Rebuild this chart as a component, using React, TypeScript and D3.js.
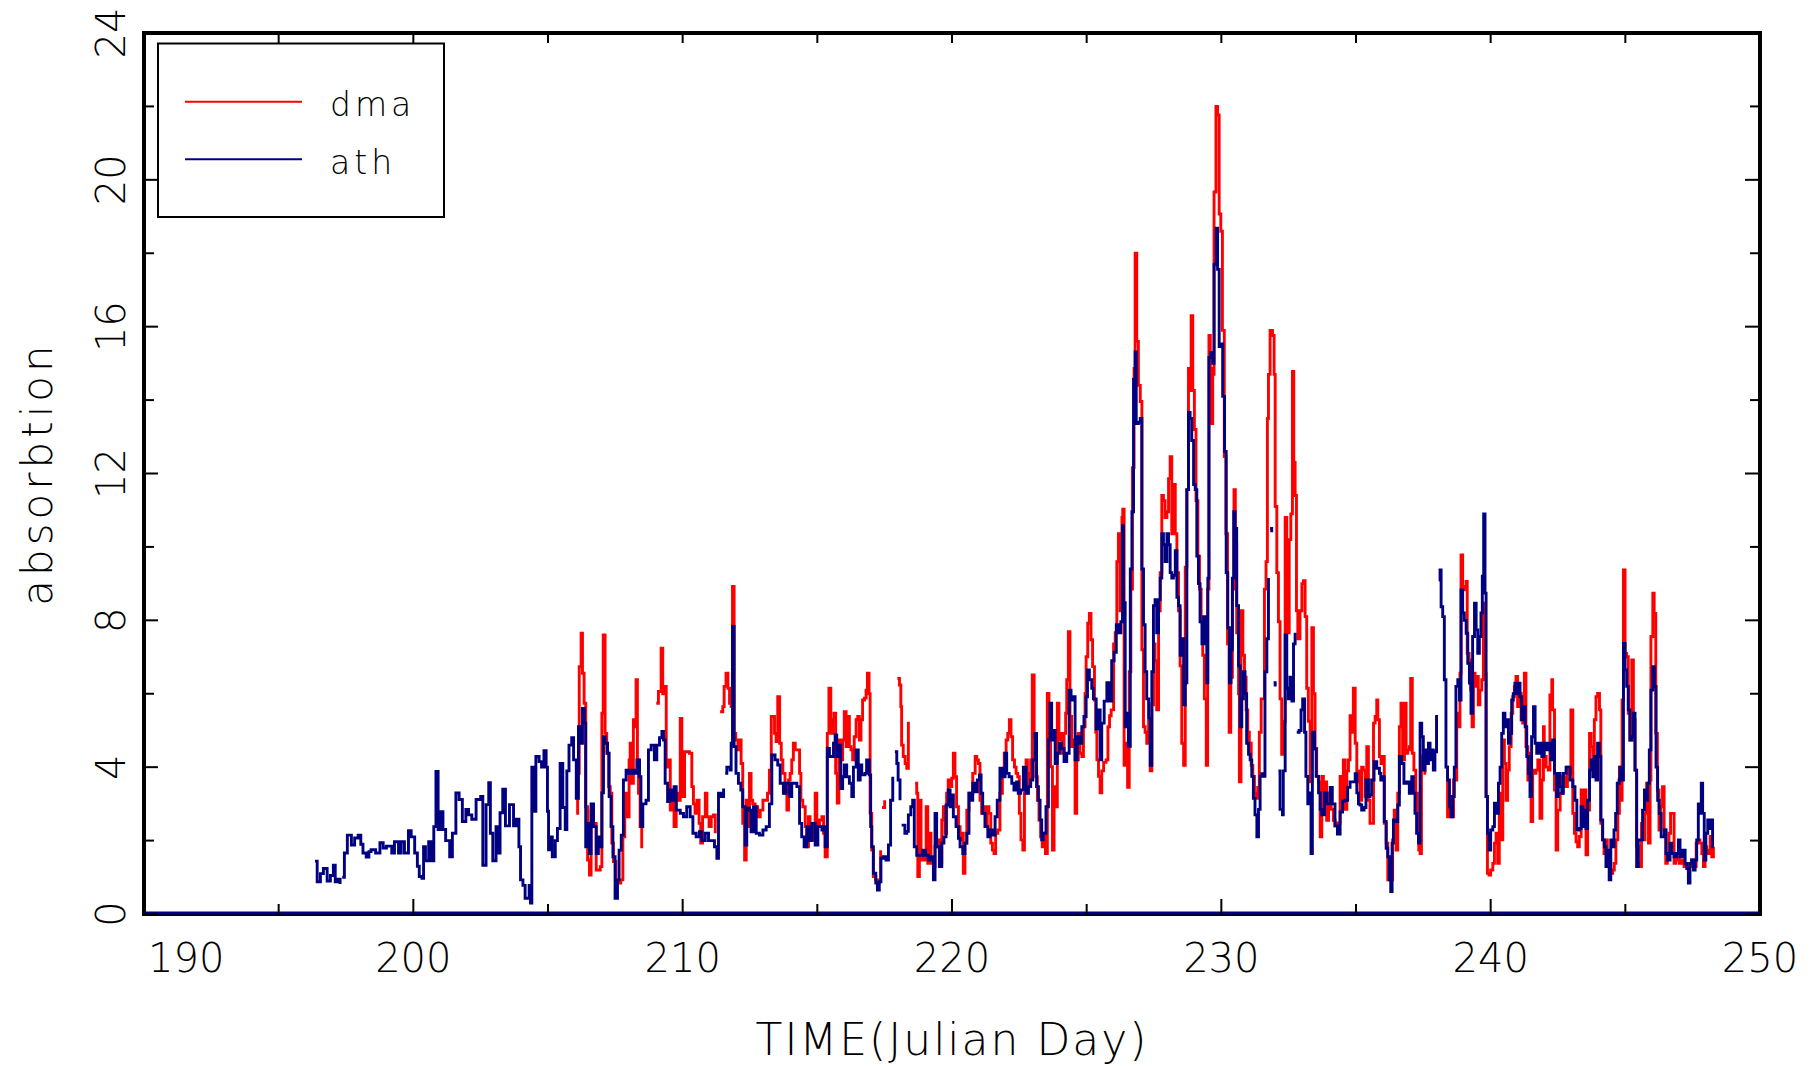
import React from "react";
import * as d3 from "d3";

type Pt = [number, number | null];

const seriesNames = ["dma", "ath"];
const seriesColors = ["#ff0000", "#000080"];
const xDomain = [190, 250];
const yDomain = [0, 24];
const xMajorTicks = [190, 200, 210, 220, 230, 240, 250];
const xMinorTicks = [195, 205, 215, 225, 235, 245];
const yMajorTicks = [0, 4, 8, 12, 16, 20, 24];
const yMinorTicks = [2, 6, 10, 14, 18, 22];
const xTitle = "TIME(Julian Day)";
const yTitle = "absorbtion";

const athSeries: Pt[] = [
[196.35,1.44],[196.43,0.88],[196.55,1.1],[196.66,1.24],[196.8,0.9],[196.92,1.05],[197.03,1.33],[197.1,0.88],[197.2,0.95],[197.28,0.82],[197.32,null],
[197.36,1.0],[197.44,1.66],[197.55,2.15],[197.7,1.88],[197.82,2.07],[197.95,2.15],[198.05,1.9],[198.13,1.66],[198.25,1.55],[198.35,1.7],[198.43,1.75],[198.6,1.66],[198.76,1.94],[198.88,1.8],[199.0,1.85],[199.2,1.66],[199.3,1.97],[199.45,1.66],[199.55,1.97],[199.67,1.66],[199.82,2.27],[199.92,2.1],[200.05,1.66],[200.15,1.3],[200.22,1.02],[200.32,0.97],[200.38,1.83],[200.45,1.45],[200.57,1.97],[200.67,1.45],[200.76,2.38],[200.84,3.88],[200.92,2.3],[201.0,2.79],[201.1,2.3],[201.2,2.0],[201.35,1.56],[201.45,2.2],[201.58,3.3],[201.7,3.12],[201.82,2.52],[201.95,2.85],[202.05,2.7],[202.17,2.58],[202.33,3.12],[202.5,3.2],[202.58,1.33],[202.7,2.98],[202.8,3.58],[202.86,2.2],[202.95,1.45],[203.07,2.38],[203.13,1.66],[203.22,2.76],[203.32,3.4],[203.42,2.4],[203.57,2.98],[203.72,2.4],[203.82,2.58],[203.92,1.83],[203.98,0.93],[204.07,0.78],[204.15,0.43],[204.3,0.78],[204.35,0.3],[204.4,4.0],[204.48,2.8],[204.55,4.29],[204.67,4.15],[204.76,4.0],[204.85,4.45],[204.93,4.0],[204.98,2.8],[205.02,1.75],
[205.1,2.1],[205.16,1.56],[205.27,2.0],[205.35,2.33],[205.45,4.1],[205.55,2.9],[205.64,2.3],[205.7,3.9],[205.78,4.6],[205.88,4.8],[205.95,4.2],[206.05,3.15],[206.13,5.1],[206.22,4.65],[206.28,5.6],[206.35,5.2],[206.4,1.83],[206.48,2.47],[206.54,1.65],[206.6,3.0],[206.69,2.38],[206.79,1.65],[206.87,2.1],[206.94,1.83],[207.0,3.3],[207.06,4.83],[207.12,4.65],[207.21,4.38],[207.27,3.2],[207.34,2.38],[207.41,1.56],[207.49,0.43],[207.58,0.93],[207.64,1.74],[207.72,2.15],[207.8,3.65],[207.9,3.92],[207.99,3.83],[208.11,3.92],[208.2,3.83],[208.3,4.2],[208.4,3.74],[208.45,2.38],[208.52,3.0],[208.64,3.1],[208.73,4.47],[208.83,4.6],[208.95,4.2],[209.04,4.6],[209.14,4.8],[209.23,4.97],[209.29,4.74],[209.35,3.56],[209.44,3.06],[209.51,3.38],[209.6,3.1],[209.68,3.47],[209.76,2.83],[209.91,2.74],[210.03,2.65],[210.15,2.92],[210.28,2.65],[210.38,2.2],[210.5,2.1],[210.62,2.24],[210.71,2.0],[210.84,2.2],[210.96,2.0],[211.08,2.0],[211.18,1.83],[211.27,1.52],[211.33,3.29],[211.42,3.2],[211.52,3.42],[211.55,null],
[211.58,3.83],[211.64,4.0],[211.76,3.92],[211.8,4.65],[211.85,7.83],[211.91,4.56],[211.98,3.83],[212.07,3.56],[212.16,3.38],[212.23,2.92],[212.32,1.88],[212.38,2.88],[212.48,2.83],[212.54,2.24],[212.63,2.92],[212.73,2.2],[212.85,2.15],[212.98,2.29],[213.1,2.38],[213.22,3.0],[213.31,4.33],[213.43,4.2],[213.53,4.06],[213.62,3.56],[213.74,3.29],[213.84,3.56],[213.97,3.2],[214.05,3.56],[214.24,3.47],[214.34,2.47],[214.42,2.1],[214.51,1.83],[214.61,2.38],[214.71,2.0],[214.8,2.47],[214.92,1.88],[215.02,2.38],[215.17,2.29],[215.22,2.38],[215.29,1.83],[215.37,4.51],[215.45,4.29],[215.6,4.65],[215.66,4.88],[215.72,4.29],[215.78,4.6],[215.87,3.42],[215.94,3.74],[216.0,4.06],[216.09,3.74],[216.19,3.56],[216.28,3.2],[216.34,4.0],[216.44,4.47],[216.52,3.65],[216.59,4.06],[216.65,3.79],[216.77,3.83],[216.83,4.2],[216.93,3.79],[216.98,2.38],[217.02,1.83],[217.08,1.11],[217.17,0.84],[217.23,0.65],[217.3,0.88],[217.36,1.52],[217.45,1.56],[217.55,1.47],[217.64,1.88],[217.72,3.1],[217.8,3.74],[217.84,null],
[217.88,4.42],[217.95,4.1],[218.0,3.65],[218.07,3.1],[218.09,null],
[218.13,2.42],[218.25,2.2],[218.32,2.25],[218.38,2.7],[218.47,2.92],[218.54,3.1],[218.6,1.83],[218.69,1.6],[218.8,1.6],[218.91,1.74],[219.02,1.6],[219.12,1.47],[219.2,1.56],[219.31,0.93],[219.37,2.74],[219.43,1.83],[219.53,1.29],[219.62,1.93],[219.7,2.1],[219.78,2.97],[219.86,3.38],[219.93,2.92],[219.99,3.24],[220.05,2.65],[220.15,2.38],[220.24,2.06],[220.3,1.83],[220.4,1.65],[220.48,1.93],[220.55,2.2],[220.63,3.29],[220.69,3.1],[220.77,3.56],[220.86,3.33],[220.94,3.65],[221.02,3.79],[221.08,3.29],[221.14,2.74],[221.23,2.38],[221.33,2.1],[221.41,2.29],[221.51,2.15],[221.6,2.65],[221.68,3.1],[221.78,3.97],[221.88,3.74],[221.97,4.38],[222.03,3.83],[222.12,3.74],[222.22,3.56],[222.3,3.38],[222.4,3.6],[222.46,3.29],[222.55,3.38],[222.65,4.0],[222.75,3.29],[222.84,3.47],[222.92,3.65],[223.0,4.2],[223.08,4.92],[223.14,3.47],[223.21,3.1],[223.27,2.56],[223.33,2.02],[223.39,2.2],[223.49,2.92],[223.58,4.74],[223.64,5.74],[223.7,4.74],[223.76,5.0],[223.83,4.1],[223.91,4.38],[223.99,4.65],[224.07,4.51],[224.16,4.15],[224.26,4.38],[224.35,6.1],[224.42,5.83],[224.48,5.92],[224.57,4.2],[224.65,4.83],[224.73,4.65],[224.82,5.1],[224.9,5.38],[224.98,5.92],[225.03,6.65],[225.1,6.38],[225.19,6.15],[225.25,5.86],[225.35,5.04],[225.44,5.56],[225.5,4.2],[225.56,5.2],[225.65,5.8],[225.75,6.3],[225.85,5.8],[225.93,6.9],[226.02,7.13],[226.1,7.88],[226.18,7.66],[226.27,7.96],[226.33,10.58],[226.37,8.48],[226.43,5.1],[226.49,5.47],[226.55,4.57],[226.62,9.4],[226.68,10.96],[226.74,14.56],[226.8,15.31],[226.84,13.36],[226.92,13.4],[226.99,13.5],[227.05,9.4],[227.11,7.88],[227.17,6.6],[227.23,5.86],[227.3,5.33],[227.36,4.05],[227.42,6.6],[227.48,8.4],[227.54,8.56],[227.6,7.66],[227.67,8.56],[227.73,9.15],[227.79,10.36],[227.85,10.06],[227.91,9.6],[227.98,10.36],[228.04,10.06],[228.1,9.3],[228.16,9.15],[228.22,9.23],[228.29,9.9],[228.35,8.63],[228.41,8.4],[228.47,7.05],[228.53,7.5],[228.6,5.7],[228.66,6.3],[228.72,11.56],[228.78,13.66],[228.84,13.5],[228.9,12.9],[228.97,11.7],[229.03,11.56],[229.09,9.75],[229.15,9.0],[229.21,7.96],[229.28,7.36],[229.34,8.1],[229.4,7.36],[229.46,6.3],[229.5,9.15],[229.54,15.16],[229.61,15.3],[229.68,15.0],[229.73,17.7],[229.81,18.68],[229.86,17.56],[229.92,15.46],[229.99,15.53],[230.05,14.1],[230.12,12.6],[230.18,9.3],[230.24,7.8],[230.3,6.3],[230.36,7.2],[230.41,9.15],[230.46,10.96],[230.51,10.5],[230.57,8.4],[230.64,6.76],[230.7,5.1],[230.76,5.86],[230.82,6.6],[230.88,6.0],[230.94,4.65],[231.01,4.35],[231.07,4.2],[231.13,3.75],[231.19,3.15],[231.25,2.7],[231.32,2.1],[231.38,2.85],[231.44,3.75],[231.5,3.82],[231.56,3.75],[231.62,6.6],[231.69,7.5],[231.75,9.15],[231.78,null],
[231.81,10.5],[231.87,10.4],[231.9,null],
[231.94,6.3],[232.0,6.2],[232.04,null],
[232.12,3.9],[232.18,2.85],[232.27,2.7],[232.3,3.9],[232.37,7.6],[232.43,6.15],[232.49,5.86],[232.55,6.45],[232.62,5.8],[232.68,7.36],[232.74,7.66],[232.77,null],
[232.8,4.95],[232.89,5.0],[232.96,5.56],[233.02,5.86],[233.09,4.95],[233.14,3.75],[233.21,3.0],[233.27,3.3],[233.33,1.65],[233.38,4.95],[233.46,4.5],[233.52,3.75],[233.61,3.3],[233.67,2.85],[233.73,2.7],[233.83,3.3],[233.91,3.0],[234.04,3.45],[234.12,3.0],[234.22,2.4],[234.31,2.18],[234.41,2.78],[234.5,3.08],[234.6,3.1],[234.69,3.45],[234.78,3.6],[234.88,3.6],[234.97,3.82],[235.03,3.3],[235.09,3.0],[235.15,2.97],[235.21,2.83],[235.3,2.9],[235.37,3.65],[235.46,3.2],[235.52,3.25],[235.58,3.65],[235.67,4.15],[235.77,3.97],[235.87,3.83],[235.92,3.65],[235.99,3.74],[236.05,2.52],[236.12,1.79],[236.18,1.56],[236.24,0.93],[236.29,0.61],[236.34,1.93],[236.39,2.56],[236.47,2.52],[236.55,2.97],[236.61,4.29],[236.7,4.1],[236.78,3.56],[236.88,3.6],[236.98,3.29],[237.07,3.74],[237.13,3.29],[237.19,2.74],[237.25,2.2],[237.32,1.93],[237.38,5.2],[237.44,4.83],[237.5,3.92],[237.56,4.47],[237.63,4.1],[237.69,4.65],[237.75,4.2],[237.81,4.47],[237.87,3.92],[237.93,4.42],[237.99,5.42],[238.02,null],
[238.07,9.1],[238.12,9.37],[238.16,8.37],[238.22,8.1],[238.28,6.38],[238.34,4.0],[238.4,3.65],[238.47,2.92],[238.53,2.65],[238.59,3.2],[238.65,4.0],[238.71,6.2],[238.78,6.38],[238.84,5.83],[238.9,8.83],[238.96,8.2],[239.02,8.0],[239.09,7.65],[239.15,6.83],[239.21,6.29],[239.27,5.47],[239.33,7.56],[239.4,8.47],[239.46,7.74],[239.52,7.1],[239.58,7.56],[239.64,8.2],[239.69,9.2],[239.74,10.9],[239.79,8.74],[239.83,3.2],[239.88,2.2],[239.94,1.74],[240.0,2.29],[240.08,2.38],[240.14,3.02],[240.22,2.74],[240.29,3.56],[240.35,4.0],[240.41,4.92],[240.47,5.47],[240.53,5.1],[240.6,5.29],[240.66,4.65],[240.72,4.92],[240.78,5.83],[240.84,6.0],[240.9,6.29],[240.97,6.0],[241.03,6.29],[241.09,5.92],[241.15,5.29],[241.21,5.65],[241.28,5.1],[241.34,4.29],[241.4,3.83],[241.46,3.2],[241.52,4.83],[241.59,5.65],[241.65,4.65],[241.71,4.38],[241.81,4.65],[241.9,4.29],[241.98,4.65],[242.08,4.47],[242.15,4.65],[242.23,4.2],[242.3,4.74],[242.37,3.83],[242.45,3.2],[242.51,3.83],[242.58,3.47],[242.64,3.29],[242.7,3.83],[242.8,4.0],[242.88,4.0],[242.95,3.65],[243.05,3.47],[243.13,3.1],[243.2,2.29],[243.29,2.33],[243.36,2.92],[243.42,2.38],[243.48,2.83],[243.54,2.33],[243.6,3.1],[243.67,3.92],[243.73,4.2],[243.79,3.74],[243.85,4.29],[243.91,3.65],[243.97,4.65],[244.04,4.29],[244.09,2.56],[244.16,2.02],[244.22,1.83],[244.28,1.29],[244.33,1.74],[244.4,0.93],[244.46,2.02],[244.52,1.83],[244.58,2.29],[244.64,2.74],[244.7,3.56],[244.77,3.65],[244.8,4.0],[244.87,3.65],[244.93,7.37],[244.99,6.65],[245.05,6.2],[245.11,5.56],[245.17,4.74],[245.24,4.83],[245.3,5.47],[245.36,3.92],[245.42,1.29],[245.48,2.02],[245.58,2.02],[245.64,2.83],[245.71,3.38],[245.77,3.1],[245.83,3.56],[245.89,4.47],[245.95,6.1],[246.02,6.74],[246.08,6.2],[246.14,4.0],[246.2,3.1],[246.26,2.74],[246.33,2.1],[246.4,2.1],[246.45,2.29],[246.51,1.65],[246.57,1.47],[246.66,1.93],[246.72,1.65],[246.81,1.56],[246.9,1.65],[246.97,2.02],[247.03,1.56],[247.13,1.74],[247.22,1.38],[247.28,1.24],[247.34,0.84],[247.4,1.38],[247.46,1.47],[247.53,1.2],[247.59,1.47],[247.65,2.02],[247.71,3.0],[247.77,2.74],[247.82,3.56],[247.87,2.74],[247.93,1.47],[247.99,2.2],[248.06,2.56],[248.12,2.33],[248.18,2.56],[248.24,1.83],[248.28,1.83]
];

const dmaSeries: Pt[] = [
[206.05,2.74],[206.1,3.83],[206.16,6.74],[206.23,7.65],[206.28,6.56],[206.34,5.74],[206.4,2.92],[206.47,1.47],[206.54,1.06],[206.6,2.83],[206.69,2.47],[206.79,1.2],[206.94,1.29],[207.0,5.47],[207.05,7.6],[207.12,4.92],[207.18,4.38],[207.25,3.47],[207.31,3.29],[207.37,1.93],[207.43,1.43],[207.52,0.88],[207.62,0.84],[207.7,0.93],[207.78,2.1],[207.85,3.29],[207.9,2.74],[207.95,2.65],[208.01,4.2],[208.05,4.65],[208.11,3.56],[208.17,5.29],[208.24,5.1],[208.27,6.38],[208.32,4.2],[208.36,3.29],[208.42,2.38],[208.48,1.79],[208.5,null],
[209.02,5.74],[209.1,6.06],[209.2,7.24],[209.26,6.0],[209.35,6.2],[209.39,4.0],[209.47,4.2],[209.54,2.83],[209.62,3.1],[209.68,2.38],[209.76,3.29],[209.84,3.1],[209.91,5.33],[209.97,3.2],[210.07,4.42],[210.25,4.38],[210.34,3.47],[210.4,3.0],[210.46,2.74],[210.53,3.1],[210.61,2.47],[210.67,1.93],[210.74,2.65],[210.84,3.29],[210.9,2.65],[210.98,2.38],[211.06,2.65],[211.14,2.7],[211.21,2.2],[211.25,null],
[211.39,5.51],[211.49,5.65],[211.54,6.2],[211.61,6.56],[211.68,6.15],[211.74,5.74],[211.8,5.65],[211.85,8.92],[211.91,4.92],[211.97,4.74],[212.05,4.47],[212.11,4.74],[212.17,4.1],[212.23,2.47],[212.3,1.47],[212.36,3.1],[212.42,2.38],[212.48,3.83],[212.54,3.1],[212.6,3.0],[212.69,2.92],[212.78,2.65],[212.88,2.83],[212.98,3.1],[213.15,3.29],[213.22,3.92],[213.29,5.38],[213.41,4.92],[213.47,4.7],[213.53,5.92],[213.6,4.65],[213.66,4.2],[213.72,3.83],[213.8,3.29],[213.87,2.83],[213.93,3.65],[213.99,3.83],[214.05,4.2],[214.11,4.65],[214.18,4.47],[214.34,3.83],[214.39,3.1],[214.46,2.92],[214.55,2.38],[214.61,1.83],[214.67,2.65],[214.73,2.02],[214.8,2.47],[214.86,2.02],[214.92,3.29],[214.98,2.38],[215.08,2.56],[215.17,2.65],[215.23,2.2],[215.29,1.56],[215.37,4.92],[215.43,6.15],[215.5,4.92],[215.57,5.29],[215.62,5.47],[215.68,3.83],[215.74,3.02],[215.8,4.74],[215.87,4.2],[215.94,4.74],[216.0,5.51],[216.07,4.56],[216.13,5.38],[216.19,4.56],[216.25,4.47],[216.31,4.2],[216.37,4.83],[216.44,5.29],[216.5,5.38],[216.56,4.74],[216.62,5.29],[216.68,5.83],[216.75,5.88],[216.81,6.1],[216.86,6.56],[216.92,6.0],[216.96,2.74],[217.02,1.74],[217.08,1.02],[217.17,0.93],[217.23,0.84],[217.29,0.93],[217.35,1.74],[217.38,null],
[217.4,2.9],[217.5,3.1],[217.52,null],
[217.97,6.42],[218.05,6.24],[218.1,5.65],[218.13,4.6],[218.19,4.29],[218.26,4.1],[218.32,3.97],[218.38,5.24],[218.4,null],
[218.63,3.56],[218.69,3.29],[218.73,1.02],[218.79,3.1],[218.85,1.47],[218.91,1.65],[218.97,1.47],[219.04,2.92],[219.1,1.38],[219.16,2.2],[219.22,1.38],[219.31,1.29],[219.37,1.83],[219.49,2.02],[219.56,1.38],[219.62,2.56],[219.68,2.92],[219.74,2.2],[219.8,3.29],[219.86,3.65],[219.93,3.47],[219.99,3.7],[220.05,4.38],[220.11,3.74],[220.17,2.92],[220.24,2.38],[220.3,2.02],[220.36,2.2],[220.42,1.11],[220.48,1.93],[220.55,2.83],[220.63,3.29],[220.77,3.83],[220.86,4.29],[220.92,4.2],[220.98,4.1],[221.04,3.1],[221.1,2.74],[221.16,2.92],[221.23,2.38],[221.31,2.92],[221.37,2.74],[221.44,1.93],[221.5,1.74],[221.56,1.65],[221.62,2.2],[221.7,2.29],[221.78,3.29],[221.87,3.83],[221.94,4.38],[222.01,4.74],[222.07,4.92],[222.13,5.29],[222.19,4.83],[222.25,4.2],[222.32,4.0],[222.38,3.83],[222.44,3.74],[222.5,2.74],[222.56,2.02],[222.63,1.74],[222.69,3.29],[222.75,4.2],[222.8,3.83],[222.86,3.47],[222.92,4.2],[222.98,6.51],[223.05,4.83],[223.11,3.74],[223.17,3.1],[223.23,2.56],[223.29,2.1],[223.35,1.83],[223.42,2.2],[223.47,1.65],[223.54,6.01],[223.6,4.83],[223.66,4.01],[223.73,1.74],[223.79,3.47],[223.86,2.92],[223.91,5.74],[223.97,4.74],[224.04,4.92],[224.1,4.38],[224.16,4.92],[224.22,5.47],[224.26,6.38],[224.32,7.69],[224.38,5.38],[224.44,4.56],[224.51,4.74],[224.57,2.74],[224.63,4.2],[224.69,4.92],[224.75,4.38],[224.82,4.29],[224.88,5.1],[224.94,6.01],[224.98,7.01],[225.04,7.92],[225.1,8.19],[225.16,7.47],[225.22,6.74],[225.29,5.83],[225.34,4.95],[225.38,4.2],[225.44,3.75],[225.5,3.3],[225.56,3.9],[225.63,4.13],[225.72,4.2],[225.79,5.1],[225.85,5.4],[225.91,5.56],[226.0,7.36],[226.06,7.66],[226.12,9.6],[226.18,10.36],[226.24,8.26],[226.31,10.8],[226.34,11.03],[226.39,4.05],[226.45,4.65],[226.52,3.45],[226.58,6.6],[226.64,8.85],[226.7,12.16],[226.76,14.86],[226.8,18.0],[226.86,15.6],[226.92,14.4],[226.99,13.96],[227.05,7.2],[227.11,5.1],[227.17,4.95],[227.23,4.65],[227.3,5.25],[227.36,3.9],[227.42,5.7],[227.48,7.36],[227.54,6.9],[227.6,5.56],[227.67,8.26],[227.73,9.3],[227.79,11.4],[227.85,11.26],[227.91,10.8],[227.98,10.96],[228.04,11.86],[228.1,12.46],[228.16,10.36],[228.22,11.7],[228.29,10.36],[228.35,9.3],[228.41,8.26],[228.47,6.76],[228.53,4.65],[228.6,4.05],[228.66,9.45],[228.72,11.56],[228.78,14.86],[228.84,14.26],[228.88,16.3],[228.94,14.26],[229.0,13.2],[229.06,11.26],[229.13,9.75],[229.19,8.85],[229.25,7.96],[229.31,7.05],[229.37,5.86],[229.44,4.05],[229.49,8.85],[229.54,15.76],[229.59,14.86],[229.63,13.36],[229.68,14.7],[229.73,19.67],[229.8,22.0],[229.86,21.77],[229.92,19.07],[229.98,18.6],[230.04,15.9],[230.11,12.46],[230.17,10.36],[230.23,7.36],[230.29,4.95],[230.35,6.45],[230.41,8.85],[230.47,11.56],[230.52,10.06],[230.57,7.66],[230.64,6.0],[230.67,3.6],[230.73,8.26],[230.8,7.05],[230.86,6.45],[230.92,5.56],[230.98,4.95],[231.04,4.65],[231.11,4.05],[231.17,3.75],[231.23,3.3],[231.29,3.15],[231.35,3.45],[231.41,4.95],[231.48,5.86],[231.6,8.85],[231.66,9.6],[231.71,13.5],[231.75,14.7],[231.81,15.9],[231.9,15.76],[231.96,14.7],[232.0,11.1],[232.06,9.3],[232.12,7.96],[232.18,5.86],[232.24,4.35],[232.3,5.25],[232.37,10.8],[232.43,10.06],[232.47,7.66],[232.52,10.2],[232.58,10.9],[232.64,14.78],[232.69,12.3],[232.74,11.4],[232.79,8.26],[232.84,7.5],[232.92,8.26],[232.99,9.0],[233.05,9.08],[233.11,8.1],[233.17,6.15],[233.23,5.25],[233.3,3.6],[233.36,7.8],[233.42,6.0],[233.48,4.5],[233.54,3.75],[233.61,3.6],[233.67,2.1],[233.73,3.75],[233.79,3.3],[233.85,3.6],[233.91,2.55],[233.98,3.3],[234.08,2.85],[234.16,2.55],[234.22,2.4],[234.32,2.48],[234.41,3.75],[234.47,3.15],[234.53,4.2],[234.6,2.85],[234.66,3.9],[234.72,4.2],[234.78,5.4],[234.84,4.95],[234.9,6.15],[234.97,4.65],[235.03,3.6],[235.09,3.9],[235.15,3.1],[235.21,4.0],[235.27,3.92],[235.34,3.2],[235.4,4.56],[235.46,3.1],[235.52,2.47],[235.6,2.47],[235.65,5.2],[235.71,5.38],[235.77,5.83],[235.81,5.29],[235.87,4.29],[235.93,4.1],[236.02,4.29],[236.05,2.47],[236.12,1.93],[236.18,0.93],[236.24,1.2],[236.3,0.93],[236.36,2.02],[236.42,2.83],[236.49,1.74],[236.55,3.29],[236.61,5.1],[236.67,5.74],[236.73,4.2],[236.8,5.74],[236.86,4.38],[236.92,4.47],[236.98,4.56],[237.03,6.42],[237.09,4.38],[237.15,3.92],[237.22,3.29],[237.28,2.74],[237.33,1.74],[237.38,1.65],[237.43,4.29],[237.5,4.1],[237.56,3.83],[237.6,3.83],[237.62,null],
[238.35,4.0],[238.4,2.65],[238.47,3.2],[238.55,2.65],[238.62,3.65],[238.74,5.47],[238.8,5.1],[238.86,6.56],[238.9,9.78],[238.96,8.83],[239.02,8.92],[239.09,9.06],[239.13,7.1],[239.2,6.92],[239.26,6.1],[239.31,5.1],[239.36,6.56],[239.42,6.2],[239.48,6.47],[239.54,5.7],[239.6,6.1],[239.67,6.38],[239.73,8.47],[239.79,6.56],[239.83,3.2],[239.88,1.11],[239.94,1.06],[240.0,1.2],[240.08,1.38],[240.14,1.93],[240.2,2.2],[240.26,1.38],[240.32,3.29],[240.39,2.02],[240.45,4.74],[240.51,4.1],[240.57,3.1],[240.63,3.92],[240.69,4.56],[240.76,5.47],[240.82,5.92],[240.88,6.2],[240.94,6.47],[241.0,5.65],[241.07,6.01],[241.13,5.29],[241.19,5.2],[241.25,6.56],[241.31,4.56],[241.38,3.65],[241.44,4.38],[241.5,2.52],[241.56,3.92],[241.62,3.83],[241.68,3.92],[241.75,4.2],[241.83,2.61],[241.9,3.65],[241.96,5.1],[241.99,4.29],[242.06,4.0],[242.14,3.92],[242.2,5.97],[242.27,6.38],[242.3,5.56],[242.37,3.38],[242.43,1.74],[242.49,2.83],[242.58,3.29],[242.67,3.74],[242.76,3.47],[242.85,4.0],[242.92,3.83],[242.98,5.56],[243.05,2.74],[243.11,2.2],[243.17,1.97],[243.23,1.83],[243.29,2.11],[243.36,3.38],[243.42,2.38],[243.48,3.38],[243.54,1.61],[243.6,2.83],[243.67,4.92],[243.73,4.56],[243.79,4.0],[243.85,5.29],[243.91,5.92],[243.97,6.01],[244.04,5.56],[244.09,2.47],[244.15,2.02],[244.21,1.65],[244.27,2.02],[244.33,1.47],[244.4,1.38],[244.46,1.11],[244.53,1.2],[244.59,1.38],[244.65,2.02],[244.72,2.74],[244.78,4.0],[244.84,3.1],[244.88,5.83],[244.93,9.37],[244.99,7.1],[245.05,7.01],[245.11,5.47],[245.17,4.74],[245.24,6.92],[245.3,5.29],[245.36,3.92],[245.42,1.83],[245.48,1.38],[245.55,1.29],[245.6,2.47],[245.67,2.02],[245.73,2.74],[245.79,3.56],[245.86,1.93],[245.92,3.65],[245.95,7.56],[246.02,8.74],[246.07,8.19],[246.13,4.92],[246.19,3.38],[246.25,2.29],[246.31,2.92],[246.38,3.47],[246.44,2.29],[246.5,1.38],[246.56,1.56],[246.62,2.2],[246.68,2.74],[246.75,2.74],[246.81,1.38],[246.87,1.47],[246.93,1.65],[247.0,1.38],[247.09,1.47],[247.18,1.29],[247.28,1.38],[247.38,1.29],[247.46,1.47],[247.55,1.29],[247.63,1.93],[247.71,2.02],[247.77,1.93],[247.84,1.65],[247.9,1.29],[247.96,1.83],[248.02,1.74],[248.08,1.65],[248.15,2.11],[248.21,1.56],[248.27,1.83]
];

const W = 1816;
const H = 1066;
const L = 144, R = 1760, T = 33, B = 914;
const FONT = "'DejaVu Sans', sans-serif";

export default function App() {
  const x = d3.scaleLinear().domain(xDomain).range([L, R]);
  const y = d3.scaleLinear().domain(yDomain).range([B, T]);
  const line = d3
    .line<Pt>()
    .defined((d) => d[1] !== null)
    .x((d) => x(d[0]))
    .y((d) => y(d[1] as number))
    .curve(d3.curveStepAfter);

  const series = [dmaSeries, athSeries];
  const baseline: Pt[] = [[xDomain[0], 0], [xDomain[1], 0]];

  return (
    <svg
      width={W}
      height={H}
      style={{ position: "absolute", left: 0, top: 0, background: "#fff" }}
      fontFamily={FONT}
    >
      <rect x={0} y={0} width={W} height={H} fill="#fff" />
      {series.map((s, i) => (
        <path key={i} d={line(s) || ""} fill="none" stroke={seriesColors[i]} strokeWidth={2.9} strokeLinejoin="miter" />
      ))}
      {/* frame */}
      <rect x={L} y={T} width={R - L} height={B - T} fill="none" stroke="#000" strokeWidth={4} />
      <path d={line(baseline) || ""} transform="translate(0,-1)" stroke={seriesColors[1]} strokeWidth={3} fill="none" />
      {/* x ticks */}
      {xMajorTicks.map((t) => (
        <g key={"xm" + t}>
          <line x1={x(t)} x2={x(t)} y1={B} y2={B - 15} stroke="#000" strokeWidth={2} />
          <line x1={x(t)} x2={x(t)} y1={T} y2={T + 10} stroke="#000" strokeWidth={2} />
          <text
            x={t === xDomain[0] ? x(t) + 4 : x(t)}
            y={972}
            fontSize={40}
            fontWeight={200}
            textAnchor={t === xDomain[0] ? "start" : "middle"}
            fill="#000"
          >
            {t}
          </text>
        </g>
      ))}
      {xMinorTicks.map((t) => (
        <g key={"xn" + t}>
          <line x1={x(t)} x2={x(t)} y1={B} y2={B - 10} stroke="#000" strokeWidth={2} />
          <line x1={x(t)} x2={x(t)} y1={T} y2={T + 10} stroke="#000" strokeWidth={2} />
        </g>
      ))}
      {/* y ticks */}
      {yMajorTicks.map((t) => (
        <g key={"ym" + t}>
          <line x1={L} x2={L + 14} y1={y(t)} y2={y(t)} stroke="#000" strokeWidth={2} />
          <line x1={R} x2={R - 15} y1={y(t)} y2={y(t)} stroke="#000" strokeWidth={2} />
          <text
            transform={`translate(125,${y(t)}) rotate(-90)`}
            fontSize={40}
            fontWeight={200}
            textAnchor="middle"
            fill="#000"
          >
            {t}
          </text>
        </g>
      ))}
      {yMinorTicks.map((t) => (
        <g key={"yn" + t}>
          <line x1={L} x2={L + 10} y1={y(t)} y2={y(t)} stroke="#000" strokeWidth={2} />
          <line x1={R} x2={R - 10} y1={y(t)} y2={y(t)} stroke="#000" strokeWidth={2} />
        </g>
      ))}
      {/* titles */}
      <text x={(L + R) / 2} y={1055} fontSize={44} fontWeight={200} letterSpacing={2} textAnchor="middle" fill="#000">
        {xTitle}
      </text>
      <text
        transform={`translate(52,${(T + B) / 2}) rotate(-90)`}
        fontSize={42}
        fontWeight={200}
        letterSpacing={4}
        textAnchor="middle"
        fill="#000"
      >
        {yTitle}
      </text>
      {/* legend */}
      <rect x={158} y={43.5} width={286} height={173.5} fill="#fff" stroke="#000" strokeWidth={2} />
      {seriesNames.map((n, i) => (
        <g key={n}>
          <line x1={185} x2={302} y1={101.7 + i * 57.6} y2={101.7 + i * 57.6} stroke={seriesColors[i]} strokeWidth={2} />
          <text x={330} y={116 + i * 58} fontSize={33} fontWeight={200} letterSpacing={4} fill="#000">
            {n}
          </text>
        </g>
      ))}
    </svg>
  );
}
